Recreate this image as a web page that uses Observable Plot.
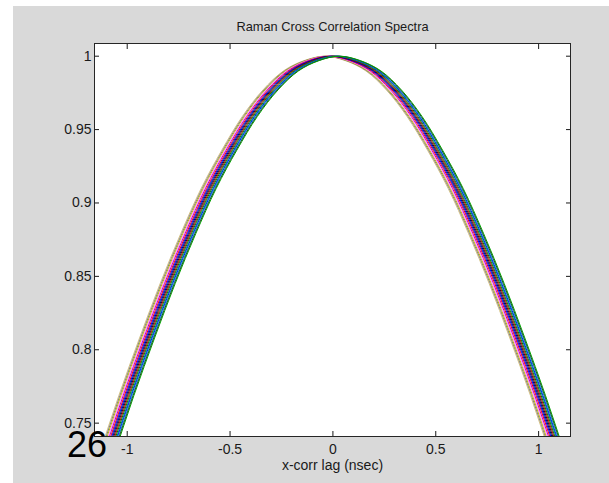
<!DOCTYPE html>
<html>
<head>
<meta charset="utf-8">
<script src="https://cdn.jsdelivr.net/npm/d3@7"></script>
<script src="https://cdn.jsdelivr.net/npm/@observablehq/plot@0.6"></script>
<style>
html, body { margin: 0; padding: 0; background: #ffffff; }
#wrap { position: relative; width: 609px; height: 483px; overflow: hidden; }
#bg { position: absolute; left: 13px; top: 6px; right: 0; bottom: 0; background: #d9d9d9; }
#chart { position: absolute; left: 0; top: 0; }
.lbl { position: absolute; font-family: "Liberation Sans", Arial, sans-serif; color: #1a1a1a; line-height: 1; white-space: nowrap; }
#title { left: 0; width: 665px; text-align: center; top: 20.5px; font-size: 12.8px; }
#xlabel { left: 0; width: 665px; text-align: center; top: 458px; font-size: 14px; }
#slide { left: 67px; top: 427px; font-size: 36px; color: #000; }
</style>
</head>
<body>
<div id="wrap">
  <div id="bg"></div>
  <div id="chart"></div>
  <div class="lbl" id="title">Raman Cross Correlation Spectra</div>
  <div class="lbl" id="xlabel">x-corr lag (nsec)</div>
  <div class="lbl" id="slide">26</div>
</div>
<script>
// Lag grid (nsec) and the normalized cross-correlation profile
const lagGrid = [-1.2, -1.1, -1.0, -0.9, -0.8, -0.7, -0.6, -0.5, -0.4, -0.3, -0.2, -0.1, 0,
                 0.1, 0.2, 0.3, 0.4, 0.5, 0.6, 0.7, 0.8, 0.9, 1.0, 1.1, 1.2];
const profile = [0.685, 0.727, 0.769, 0.808, 0.845, 0.879, 0.910, 0.936, 0.959, 0.977, 0.990, 0.997, 1.000,
                 0.997, 0.990, 0.977, 0.959, 0.936, 0.910, 0.879, 0.845, 0.808, 0.769, 0.727, 0.685];
// Peak lag of each spectrum (nsec) and its line colour
const curveShift = [-0.040, -0.035, -0.030, -0.025, -0.019, -0.013, -0.008, -0.003, 0.002, 0.007,
                    0.012, 0.017, 0.021, 0.025, 0.029, 0.033];
const curveColor = ["#d4c080", "#808080", "#bfbf00", "#ff80ff", "#bf00bf", "#ff0000", "#0000ff", "#000080",
                    "#202020", "#c00000", "#008000", "#008080", "#0000ff", "#00bfbf", "#303030", "#00a000"];
const xTicks = [-1, -0.5, 0, 0.5, 1];
const yTicks = [0.75, 0.8, 0.85, 0.9, 0.95, 1];

const rows = [];
curveShift.forEach((s, k) => {
  lagGrid.forEach((lag, i) => rows.push({curve: k, lag: lag + s, corr: profile[i]}));
});

const lineMarks = curveShift.map((s, k) =>
  Plot.line(rows.filter(d => d.curve === k), {
    x: "lag", y: "corr", stroke: curveColor[k], strokeWidth: 1, curve: "catmull-rom", clip: true
  })
);

const chart = Plot.plot({
  width: 609,
  height: 483,
  marginLeft: 94,
  marginRight: 39,
  marginTop: 43,
  marginBottom: 47,
  style: { background: "transparent", color: "#1a1a1a", fontFamily: "Liberation Sans, Arial, sans-serif", fontSize: "14px" },
  x: { domain: [-1.159, 1.155] },
  y: { domain: [0.7409, 1.00865] },
  marks: [
    Plot.frame({ fill: "white", stroke: null }),
    ...lineMarks,
    Plot.axisX({ ticks: xTicks, anchor: "bottom", tickSize: 0, tickPadding: 8, tickFormat: d => String(d), label: null, fontSize: 14 }),
    Plot.axisX({ ticks: xTicks, anchor: "bottom", tickSize: -5, tickFormat: () => "", label: null }),
    Plot.axisX({ ticks: xTicks, anchor: "top", tickSize: -5, tickFormat: () => "", label: null }),
    Plot.axisY({ ticks: yTicks, anchor: "left", tickSize: 0, tickPadding: 3, tickFormat: d => String(d), label: null, fontSize: 14 }),
    Plot.axisY({ ticks: yTicks, anchor: "left", tickSize: -5, tickFormat: () => "", label: null }),
    Plot.axisY({ ticks: yTicks, anchor: "right", tickSize: -5, tickFormat: () => "", label: null }),
    Plot.frame({ stroke: "#262626", strokeWidth: 1 })
  ]
});
document.getElementById("chart").appendChild(chart);
</script>
</body>
</html>
